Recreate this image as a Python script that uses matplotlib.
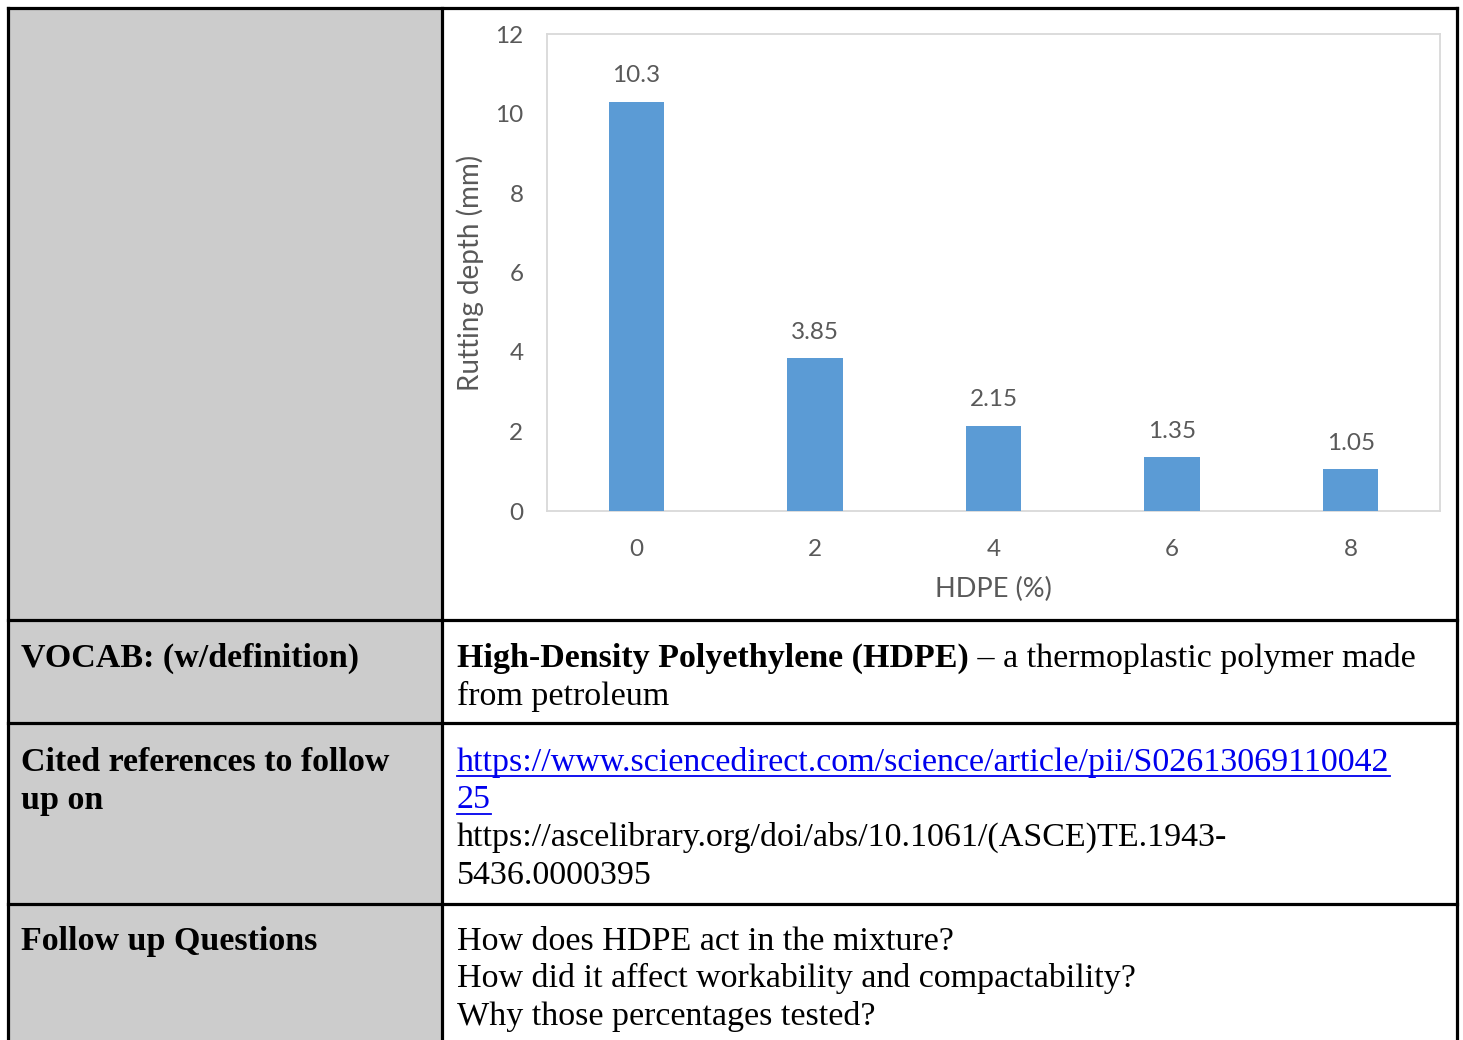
import matplotlib.pyplot as plt
from matplotlib.patches import Rectangle

# chart data
hdpe_pct = ['0', '2', '4', '6', '8']
rutting_mm = [10.3, 3.85, 2.15, 1.35, 1.05]
bar_labels = ['10.3', '3.85', '2.15', '1.35', '1.05']
y_ticks = [0, 2, 4, 6, 8, 10, 12]

# table text
vocab_head = "VOCAB: (w/definition)"
vocab_term = "High-Density Polyethylene (HDPE)"
vocab_def = [" \u2013 a thermoplastic polymer made", "from petroleum"]
cited_head = ["Cited references to follow", "up on"]
cited_link = ["https://www.sciencedirect.com/science/article/pii/S02613069110042", "25"]
cited_plain = ["https://ascelibrary.org/doi/abs/10.1061/(ASCE)TE.1943-", "5436.0000395"]
follow_head = "Follow up Questions"
follow_qs = ["How does HDPE act in the mixture?",
             "How did it affect workability and compactability?",
             "Why those percentages tested?"]

W, H = 1463, 1040
fig = plt.figure(figsize=(W / 100, H / 100), dpi=100)

# table background, drawn in pixel coords
bg = fig.add_axes([0, 0, 1, 1])
bg.set_xlim(0, W)
bg.set_ylim(H, 0)
bg.axis('off')

bg.add_patch(Rectangle((8, 8), 434, H, facecolor='#cccccc', edgecolor='none'))
lw = 2.3
for x in [8, 442, 1457]:
    bg.plot([x, x], [8, H + 5], color='black', lw=lw, solid_capstyle='projecting')
for y in [8, 620, 723, 904]:
    bg.plot([8, 1457], [y, y], color='black', lw=lw, solid_capstyle='projecting')

serif = 'Liberation Serif'
fs = 24.5
step = 37.5
lx, rx = 21, 457

bg.text(lx, 667, vocab_head, family=serif, size=fs, weight='bold')
t_term = bg.text(rx, 667, vocab_term, family=serif, size=fs, weight='bold')
fig.canvas.draw()
bb = t_term.get_window_extent()
x_end = bg.transData.inverted().transform((bb.x1, bb.y0))[0]
bg.text(x_end, 667, vocab_def[0], family=serif, size=fs)
bg.text(rx, 667 + step, vocab_def[1], family=serif, size=fs)

for i, s in enumerate(cited_head):
    bg.text(lx, 771 + i * step, s, family=serif, size=fs, weight='bold')
for i, s in enumerate(cited_link):
    y = 771 + i * step
    t = bg.text(rx, y, s, family=serif, size=fs, color='#0000ee')
    fig.canvas.draw()
    bb = t.get_window_extent()
    x1 = bg.transData.inverted().transform((bb.x1, bb.y0))[0]
    bg.plot([rx, x1], [y + 5, y + 5], color='#0000ee', lw=1.3)
for i, s in enumerate(cited_plain):
    bg.text(rx, 771 + (i + 2) * step, s, family=serif, size=fs)

bg.text(lx, 950, follow_head, family=serif, size=fs, weight='bold')
for i, s in enumerate(follow_qs):
    bg.text(rx, 950 + i * step, s, family=serif, size=fs)

# bar chart inside the top-right cell
sans = 'Lato'
gray = '#595959'
ax = fig.add_axes([547 / W, 1 - 511 / H, (1440 - 547) / W, (511 - 34) / H])
xs = range(len(hdpe_pct))
bars = ax.bar(xs, rutting_mm, width=0.31, color='#5b9bd5', zorder=3)
for b, lab in zip(bars, bar_labels):
    ax.annotate(lab, (b.get_x() + b.get_width() / 2, b.get_height()),
                xytext=(0, 11), textcoords='offset points', ha='center', va='bottom',
                family=sans, size=17.5, color=gray)
ax.set_xlim(-0.5, 4.5)
ax.set_ylim(0, 12)
ax.set_yticks(y_ticks)
ax.set_xticks(list(xs), hdpe_pct)
ax.tick_params(length=0, labelsize=17.5, labelcolor=gray)
ax.tick_params(axis='y', pad=17)
ax.tick_params(axis='x', pad=20)
for lab in ax.get_xticklabels() + ax.get_yticklabels():
    lab.set_family(sans)
for sp in ax.spines.values():
    sp.set_color('#d9d9d9')
    sp.set_linewidth(1.3)
ax.set_xlabel('HDPE (%)', family=sans, size=19.5, color=gray, labelpad=12)
ax.set_ylabel('Rutting depth (mm)', family=sans, size=20, color=gray, labelpad=8)

fig.savefig('out.png', dpi=100)
